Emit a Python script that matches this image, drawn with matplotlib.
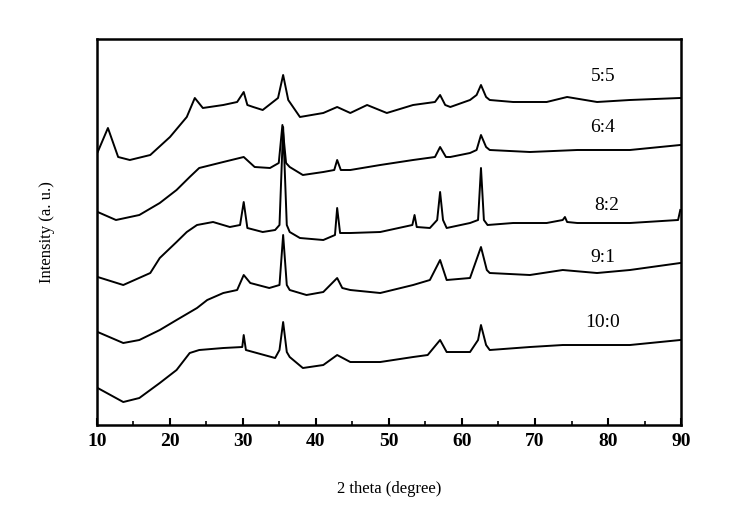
import numpy as np
import matplotlib.pyplot as plt
from matplotlib.ticker import MultipleLocator

# XRD patterns, values (2 theta, intensity a.u.)
th_55 = [10.1, 11.5, 12.9, 14.5, 17.3, 20.0, 22.3, 23.4, 24.5, 27.3, 29.2, 30.1, 30.6,
         31.4, 32.7, 34.1, 34.8, 35.5, 36.2, 37.8, 41.0, 42.9, 44.7, 47.0, 49.7, 53.3,
         56.3, 57.0, 57.7, 58.4, 61.1, 62.0, 62.6, 63.3, 63.8, 67.0, 71.6, 74.4, 78.5,
         83.0, 89.9]
i_55 = [273, 297, 268, 265, 270, 288, 308, 327, 317, 320, 323, 333, 320,
        318, 315, 323, 327, 350, 325, 308, 312, 318, 312, 320, 312, 320,
        323, 330, 320, 318, 325, 330, 340, 328, 325, 323, 323, 328, 323,
        325, 327]

th_64 = [10.1, 12.6, 15.8, 18.6, 20.9, 22.7, 24.0, 27.3, 30.1, 31.6, 33.7, 34.9, 35.4,
         35.9, 36.4, 38.2, 41.0, 42.5, 42.9, 43.4, 44.7, 48.8, 53.3, 56.3, 57.0, 57.8,
         58.4, 61.1, 62.0, 62.6, 63.3, 63.8, 69.3, 75.8, 83.0, 89.9]
i_64 = [213, 205, 210, 222, 235, 248, 257, 263, 268, 258, 257, 262, 300,
        262, 258, 250, 253, 255, 265, 255, 255, 260, 265, 268, 278, 268,
        268, 272, 275, 290, 278, 275, 273, 275, 275, 280]

th_82 = [10.1, 13.6, 17.3, 18.6, 20.9, 22.3, 23.7, 25.9, 28.2, 29.6, 30.1, 30.6, 32.7,
         34.4, 35.0, 35.5, 36.0, 36.4, 37.8, 41.0, 42.6, 42.9, 43.3, 44.7, 48.8, 53.2,
         53.5, 53.8, 55.6, 56.6, 57.0, 57.4, 57.9, 61.1, 62.2, 62.6, 63.0, 63.5, 67.0,
         71.6, 73.8, 74.1, 74.4, 75.8, 83.0, 89.6, 89.9]
i_82 = [148, 140, 152, 167, 183, 193, 200, 203, 198, 200, 223, 197, 193,
        195, 200, 298, 200, 193, 187, 185, 190, 217, 192, 192, 193, 200,
        210, 198, 197, 205, 233, 205, 197, 202, 205, 257, 205, 200, 202,
        202, 205, 208, 203, 202, 202, 205, 215]

th_91 = [10.1, 13.6, 15.8, 18.6, 20.9, 23.7, 25.1, 27.3, 29.2, 30.1, 31.0, 33.6, 35.0,
         35.5, 36.0, 36.4, 38.7, 41.0, 42.9, 43.6, 44.7, 48.8, 53.3, 55.6, 57.0, 57.9,
         61.1, 62.6, 63.4, 63.8, 69.3, 73.8, 78.5, 83.0, 89.9]
i_91 = [93, 82, 85, 95, 105, 117, 125, 132, 135, 150, 142, 137, 140,
        190, 140, 135, 130, 133, 147, 137, 135, 132, 140, 145, 165, 145,
        147, 178, 155, 152, 150, 155, 152, 155, 162]

th_100 = [10.1, 13.6, 15.8, 18.6, 20.9, 22.7, 24.0, 27.3, 29.9, 30.1, 30.4, 31.4, 34.4,
          35.0, 35.5, 36.0, 36.4, 38.2, 41.0, 42.9, 44.7, 48.8, 53.3, 55.3, 57.0, 57.9,
          61.1, 62.2, 62.6, 63.3, 63.8, 69.3, 73.8, 83.0, 89.9]
i_100 = [37, 23, 27, 42, 55, 72, 75, 77, 78, 90, 75, 73, 67,
         75, 103, 73, 68, 57, 60, 70, 63, 63, 68, 70, 85, 73,
         73, 85, 100, 80, 75, 78, 80, 80, 85]

labels = ['5:5', '6:4', '8:2', '9:1', '10:0']
label_x = [79.3, 79.3, 79.8, 79.3, 79.3]
label_y = [348, 297, 220, 168, 103]

plt.rcParams['font.family'] = ['Liberation Serif', 'DejaVu Serif']

fig = plt.figure(figsize=(7.42, 5.07), dpi=100)
ax = fig.add_axes([0.1307, 0.1617, 0.7871, 0.7614])

for th, inten in [(th_55, i_55), (th_64, i_64), (th_82, i_82), (th_91, i_91), (th_100, i_100)]:
    ax.plot(th, inten, color='black', lw=1.4)

for lab, x, y in zip(labels, label_x, label_y):
    ax.text(x, y, lab, fontsize=14, ha='center', va='center')

ax.set_xlim(10, 90)
ax.set_ylim(0, 386)
ax.xaxis.set_major_locator(MultipleLocator(10))
ax.xaxis.set_minor_locator(MultipleLocator(5))
ax.tick_params(axis='x', which='major', direction='in', length=5, width=1.5, pad=6)
ax.tick_params(axis='x', which='minor', direction='in', length=3, width=1.2)
ax.set_yticks([])
for lbl in ax.get_xticklabels():
    lbl.set_fontweight('bold')
    lbl.set_fontsize(14)
for s in ax.spines.values():
    s.set_linewidth(1.8)

ax.set_xlabel('2 theta (degree)', fontsize=12, labelpad=22)
ax.set_ylabel('Intensity (a. u.)', fontsize=12, labelpad=30)

fig.savefig('out.png', dpi=100)
